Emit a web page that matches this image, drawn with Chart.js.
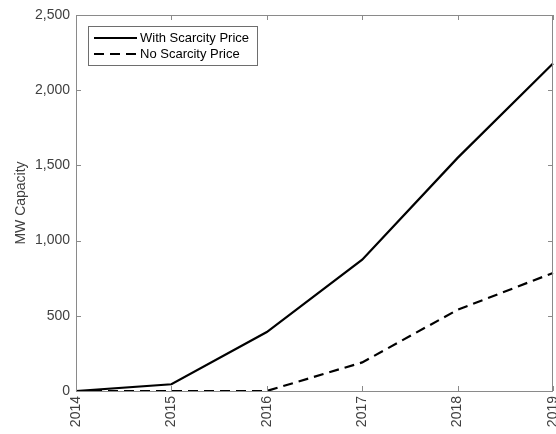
<!DOCTYPE html>
<html>
<head>
<meta charset="utf-8">
<script src="https://cdn.jsdelivr.net/npm/chart.js@4/dist/chart.umd.min.js"></script>
<style>
  html, body { margin: 0; padding: 0; background: #fff; }
  #wrap { width: 556px; height: 434px; }
</style>
</head>
<body>
<div id="wrap"><canvas id="c" width="556" height="434"></canvas></div>
<script>
const years = ['2014', '2015', '2016', '2017', '2018', '2019'];
const withScarcity = [0, 45, 392, 873, 1550, 2178];
const noScarcity = [0, 0, 0, 190, 540, 785];
const seriesNames = ['With Scarcity Price', 'No Scarcity Price'];
const yTicks = [0, 500, 1000, 1500, 2000, 2500];
const yTitle = 'MW Capacity';

const AXIS = '#8a8a8a';
const TEXT = '#404040';
const FONT = 'Liberation Sans, Arial, sans-serif';

const frameAndTicks = {
  id: 'frameAndTicks',
  afterDraw(chart) {
    const { ctx, chartArea: a, scales } = chart;
    ctx.save();
    ctx.strokeStyle = AXIS;
    ctx.lineWidth = 1;
    ctx.strokeRect(a.left + 0.5, a.top + 0.5, a.right - a.left - 1, a.bottom - a.top);
    const L = 5;
    ctx.beginPath();
    scales.x.ticks.forEach((t, i) => {
      const x = Math.round(scales.x.getPixelForTick(i)) + 0.5;
      ctx.moveTo(x, a.bottom); ctx.lineTo(x, a.bottom - L);
      ctx.moveTo(x, a.top); ctx.lineTo(x, a.top + L);
    });
    scales.y.ticks.forEach((t, i) => {
      const y = Math.round(scales.y.getPixelForTick(i)) + 0.5;
      ctx.moveTo(a.left, y); ctx.lineTo(a.left + L, y);
      ctx.moveTo(a.right, y); ctx.lineTo(a.right - L, y);
    });
    ctx.stroke();
    ctx.restore();
  }
};

const boxLegend = {
  id: 'boxLegend',
  afterDraw(chart, args, opts) {
    const { ctx, chartArea: a } = chart;
    const x0 = a.left + opts.dx, y0 = a.top + opts.dy;
    ctx.save();
    ctx.fillStyle = '#fff';
    ctx.fillRect(x0, y0, opts.w, opts.h);
    ctx.strokeStyle = '#6e6e6e';
    ctx.lineWidth = 1;
    ctx.strokeRect(x0 + 0.5, y0 + 0.5, opts.w, opts.h);
    ctx.font = '13px ' + FONT;
    ctx.textBaseline = 'middle';
    ctx.fillStyle = '#000';
    chart.data.datasets.forEach((ds, i) => {
      const y = y0 + opts.firstY + i * opts.rowH;
      ctx.beginPath();
      ctx.setLineDash(ds.borderDash || []);
      ctx.strokeStyle = ds.borderColor;
      ctx.lineWidth = ds.borderWidth;
      ctx.moveTo(x0 + 6, y);
      ctx.lineTo(x0 + 49, y);
      ctx.stroke();
      ctx.setLineDash([]);
      ctx.fillText(ds.label, x0 + 52, y + 0.5);
    });
    ctx.restore();
  }
};

new Chart(document.getElementById('c'), {
  type: 'line',
  data: {
    labels: years,
    datasets: [
      { label: seriesNames[0], data: withScarcity, borderColor: '#000', borderWidth: 2.2,
        pointRadius: 0, tension: 0, fill: false },
      { label: seriesNames[1], data: noScarcity, borderColor: '#000', borderWidth: 2.2,
        borderDash: [10, 6], pointRadius: 0, tension: 0, fill: false }
    ]
  },
  options: {
    responsive: false,
    animation: false,
    devicePixelRatio: 1,
    layout: { padding: { top: 15, right: 3, left: 0, bottom: 0 } },
    plugins: {
      legend: { display: false },
      tooltip: { enabled: false },
      boxLegend: { dx: 12, dy: 11, w: 169, h: 39, firstY: 12, rowH: 16 }
    },
    scales: {
      x: {
        type: 'category',
        offset: false,
        grid: { display: false, drawTicks: false },
        border: { display: false },
        ticks: {
          autoSkip: false, maxRotation: 90, minRotation: 90, padding: 5,
          color: TEXT, font: { family: FONT, size: 14 }
        },
        afterFit(s) { s.height = 43; s.paddingLeft = 0; s.paddingRight = 0; }
      },
      y: {
        min: 0, max: 2500,
        grid: { display: false, drawTicks: false },
        border: { display: false },
        afterBuildTicks(s) { s.ticks = yTicks.map(v => ({ value: v })); },
        ticks: {
          padding: 6, color: TEXT, font: { family: FONT, size: 14 },
          callback: v => Number(v).toLocaleString('en-US')
        },
        title: {
          display: true, text: yTitle, color: TEXT,
          font: { family: FONT, size: 14 }, padding: { top: 13, bottom: 0 }
        },
        afterFit(s) { s.width = 76; s.paddingTop = 0; s.paddingBottom = 0; }
      }
    }
  },
  plugins: [frameAndTicks, boxLegend]
});
</script>
</body>
</html>
